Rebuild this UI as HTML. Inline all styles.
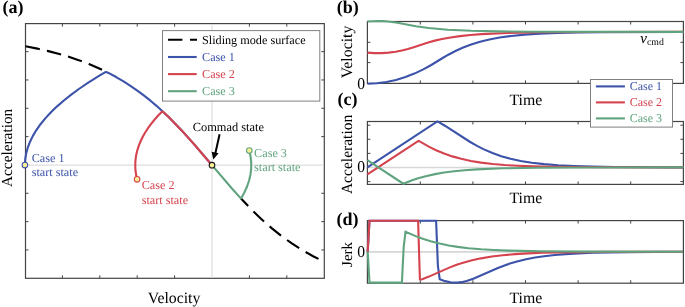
<!DOCTYPE html>
<html><head><meta charset="utf-8"><style>
html,body{margin:0;padding:0;background:#fff;width:685px;height:307px;overflow:hidden}
svg{display:block;text-rendering:geometricPrecision;will-change:transform}
</style></head><body>
<svg width="685" height="307" viewBox="0 0 685 307">
<rect width="685" height="307" fill="#fff"/>
<clipPath id="ca"><rect x="23.5" y="21.6" width="302.8" height="258.70000000000005"/></clipPath>
<rect x="25.5" y="23.6" width="298.80" height="254.70" fill="none" stroke="#444444" stroke-width="1.2"/>
<path d="M62.40 278.3V275.3M62.40 23.6V26.6M99.80 278.3V275.3M99.80 23.6V26.6M137.20 278.3V275.3M137.20 23.6V26.6M174.60 278.3V275.3M174.60 23.6V26.6M249.40 278.3V275.3M249.40 23.6V26.6M286.80 278.3V275.3M286.80 23.6V26.6M25.5 51.63H28.5M324.3 51.63H321.3M25.5 79.96H28.5M324.3 79.96H321.3M25.5 108.29H28.5M324.3 108.29H321.3M25.5 136.62H28.5M324.3 136.62H321.3M25.5 193.28H28.5M324.3 193.28H321.3M25.5 221.61H28.5M324.3 221.61H321.3M25.5 249.94H28.5M324.3 249.94H321.3" stroke="#444444" stroke-width="1" fill="none"/>
<line x1="26.1" y1="165.2" x2="323.7" y2="165.2" stroke="#dedede" stroke-width="1.2"/>
<line x1="212.0" y1="24.200000000000003" x2="212.0" y2="277.7" stroke="#dedede" stroke-width="1.2"/>
<path d="M25.50 46.25 L37.33 48.60 L48.34 51.11 L59.28 53.97 L69.45 57.00 L79.44 60.39 L88.98 64.03 L98.10 67.93 L106.99 72.18" fill="none" stroke="#000" stroke-width="2.1" stroke-dasharray="14.6 7.3"/>
<path d="M240.57 198.08 L251.13 209.15 L261.24 218.95 L271.34 227.89 L281.44 235.98 L291.82 243.43 L302.15 250.03 L313.10 256.20 L324.30 261.74" fill="none" stroke="#000" stroke-width="2.1" stroke-dasharray="14.6 7.5" stroke-dashoffset="3.58"/>
<path d="M24.90 165.10 L25.23 159.25 L26.19 153.41 L27.79 147.57 L30.02 141.73 L32.88 135.89 L36.38 130.06 L40.52 124.22 L45.28 118.38 L50.72 112.50 L56.82 106.61 L63.56 100.72 L70.95 94.82 L79.25 88.75 L88.26 82.65 L99.39 75.70 L105.39 72.16 L105.94 72.03 L106.89 72.24 L108.47 72.94 L116.56 77.29 L123.94 81.64 L131.15 86.28 L137.67 90.81 L144.10 95.60 L150.47 100.68 L156.81 106.08 L168.86 117.26 L181.31 130.03 L194.45 144.63 L211.81 164.97" fill="none" stroke="#3c53a9" stroke-width="2.1" stroke-linejoin="round"/>
<path d="M137.10 179.30 L136.15 175.06 L135.54 170.81 L135.27 166.56 L135.33 162.30 L135.72 158.05 L136.46 153.80 L137.53 149.55 L138.93 145.30 L140.69 141.02 L142.77 136.75 L145.21 132.47 L147.97 128.21 L151.15 123.85 L154.67 119.50 L158.87 114.80 L162.22 111.44 L162.72 111.57 L163.56 112.22 L169.16 117.56 L182.59 131.41 L195.17 145.45 L211.81 164.97" fill="none" stroke="#d4434e" stroke-width="2.1" stroke-linejoin="round"/>
<path d="M249.30 150.60 L250.59 156.57 L251.22 162.54 L251.18 168.52 L250.48 174.49 L249.11 180.50 L247.06 186.51 L244.27 192.67 L241.08 198.23 L240.69 198.11 L239.94 197.39 L231.71 188.23 L212.19 165.43" fill="none" stroke="#60a47f" stroke-width="2.1" stroke-linejoin="round"/>
<line x1="219.6" y1="134.3" x2="215.2" y2="154" stroke="#000" stroke-width="2"/>
<polygon points="213.3,159.5 211.6,151.8 218.6,153.3" fill="#000"/>
<circle cx="24.9" cy="165.1" r="2.8" fill="#fbef96" stroke="#3c53a9" stroke-width="1.1"/>
<circle cx="137.1" cy="179.3" r="2.8" fill="#fbef96" stroke="#d4434e" stroke-width="1.1"/>
<circle cx="249.3" cy="150.6" r="2.8" fill="#fbef96" stroke="#60a47f" stroke-width="1.1"/>
<circle cx="212.0" cy="165.2" r="2.8" fill="#fbef96" stroke="#1a1a1a" stroke-width="1.1"/>
<rect x="162.5" y="30.6" width="157.3" height="70.5" fill="#fff" stroke="#808080" stroke-width="1"/>
<line x1="168" y1="39.8" x2="197" y2="39.8" stroke="#000" stroke-width="2.1" stroke-dasharray="14.4 7.6"/>
<line x1="168" y1="57.0" x2="196.7" y2="57.0" stroke="#3c53a9" stroke-width="2.1"/>
<line x1="168" y1="74.1" x2="196.7" y2="74.1" stroke="#d4434e" stroke-width="2.1"/>
<line x1="168" y1="91.2" x2="196.7" y2="91.2" stroke="#60a47f" stroke-width="2.1"/>
<g style="font-family:'Liberation Serif',serif;font-size:12.2px">
<text x="202" y="44">Sliding mode surface</text>
<text x="202" y="61.2" fill="#3c53a9">Case 1</text>
<text x="202" y="78.3" fill="#d4434e">Case 2</text>
<text x="202" y="95.4" fill="#60a47f">Case 3</text>
</g>
<g style="font-family:'Liberation Serif',serif;font-size:12.2px">
<text x="31.7" y="161.9" fill="#3c53a9">Case 1</text><text x="31.7" y="176.3" fill="#3c53a9">start state</text>
<text x="141.7" y="188.9" fill="#d4434e">Case 2</text><text x="141.7" y="203.5" fill="#d4434e">start state</text>
<text x="254.1" y="156.6" fill="#60a47f">Case 3</text><text x="254.1" y="171.1" fill="#60a47f">start state</text>
<text x="192.7" y="131.3" style="font-size:12.4px">Commad state</text>
</g>
<rect x="367.4" y="21.5" width="316.00" height="61.90" fill="none" stroke="#444444" stroke-width="1.2"/>
<path d="M420.30 83.4V80.4M420.30 21.5V24.5M472.90 83.4V80.4M472.90 21.5V24.5M525.50 83.4V80.4M525.50 21.5V24.5M578.10 83.4V80.4M578.10 21.5V24.5M630.70 83.4V80.4M630.70 21.5V24.5M367.4 42.30H370.4M683.4 42.30H680.4M367.4 62.60H370.4M683.4 62.60H680.4" stroke="#444444" stroke-width="1" fill="none"/>
<path d="M367.40 83.71 L376.92 83.29 L386.44 82.04 L395.96 79.96 L405.49 77.04 L414.38 73.58 L423.27 69.39 L431.27 65.00 L442.23 58.24 L448.37 54.70 L455.46 51.04 L462.56 47.83 L471.12 44.56 L480.01 41.79 L489.41 39.47 L499.53 37.56 L511.34 35.92 L524.57 34.63 L539.66 33.65 L557.32 32.94 L577.54 32.48 L602.74 32.17 L683.40 31.93" fill="none" stroke="#3c53a9" stroke-width="2.1"/>
<path d="M367.40 52.64 L374.47 53.10 L381.54 53.09 L388.60 52.64 L395.67 51.72 L401.81 50.55 L407.95 49.04 L413.72 47.31 L428.11 42.45 L434.88 40.62 L441.98 39.02 L450.69 37.44 L460.09 36.11 L470.36 35.02 L481.73 34.14 L507.69 32.94 L542.40 32.28 L591.31 31.99 L683.40 31.91" fill="none" stroke="#d4434e" stroke-width="2.1"/>
<path d="M367.40 21.57 L372.57 21.18 L377.74 21.02 L382.91 21.12 L388.07 21.45 L397.43 22.69 L415.81 26.30 L428.70 28.05 L447.76 29.69 L471.07 30.79 L497.62 31.39 L533.44 31.72 L683.40 31.90" fill="none" stroke="#60a47f" stroke-width="2.1"/>
<rect x="367.4" y="121.5" width="316.00" height="62.90" fill="none" stroke="#444444" stroke-width="1.2"/>
<path d="M420.30 184.4V181.4M420.30 121.5V124.5M472.90 184.4V181.4M472.90 121.5V124.5M525.50 184.4V181.4M525.50 121.5V124.5M578.10 184.4V181.4M578.10 121.5V124.5M630.70 184.4V181.4M630.70 121.5V124.5M367.4 125.20H370.4M683.4 125.20H680.4M367.4 139.30H370.4M683.4 139.30H680.4M367.4 153.40H370.4M683.4 153.40H680.4M367.4 181.60H370.4M683.4 181.60H680.4" stroke="#444444" stroke-width="1" fill="none"/>
<line x1="368.0" y1="167.5" x2="682.8" y2="167.5" stroke="#d8d8d8" stroke-width="1.6"/>
<path d="M367.40 167.35 L437.36 121.41 L438.80 122.06 L444.87 125.73 L469.81 141.73 L477.02 145.85 L483.93 149.37 L492.48 153.07 L501.30 156.19 L510.62 158.80 L520.64 160.96 L531.77 162.74 L544.16 164.16 L558.17 165.25 L574.38 166.07 L592.86 166.62 L615.41 167.00 L683.40 167.35" fill="none" stroke="#3c53a9" stroke-width="2.1"/>
<path d="M367.40 174.36 L418.43 140.86 L419.24 141.16 L428.79 146.58 L436.07 150.17 L444.06 153.53 L452.30 156.38 L461.22 158.85 L470.80 160.92 L481.22 162.61 L492.74 163.98 L504.62 164.99 L518.04 165.77 L533.43 166.36 L551.55 166.79 L598.35 167.25 L683.40 167.39" fill="none" stroke="#d4434e" stroke-width="2.1"/>
<path d="M367.40 160.19 L403.30 183.71 L412.11 180.34 L419.02 178.06 L426.80 175.94 L435.07 174.13 L444.11 172.57 L453.95 171.28 L464.78 170.23 L476.85 169.38 L503.08 168.32 L538.30 167.73 L588.12 167.48 L683.40 167.40" fill="none" stroke="#60a47f" stroke-width="2.1"/>
<rect x="367.4" y="220.6" width="316.00" height="62.60" fill="none" stroke="#444444" stroke-width="1.2"/>
<path d="M420.30 283.2V280.2M420.30 220.6V223.6M472.90 283.2V280.2M472.90 220.6V223.6M525.50 283.2V280.2M525.50 220.6V223.6M578.10 283.2V280.2M578.10 220.6V223.6M630.70 283.2V280.2M630.70 220.6V223.6" stroke="#444444" stroke-width="1" fill="none"/>
<line x1="368.0" y1="251.9" x2="682.8" y2="251.9" stroke="#d6d6d6" stroke-width="1.7"/>
<path d="M367.70 251.70 L369.50 220.77 L436.10 220.77 L437.90 265.86 L439.70 279.25 L445.10 281.12 L450.50 282.26 L454.10 282.58 L457.70 282.55 L461.30 282.16 L466.70 280.97 L473.90 278.51 L497.30 268.26 L504.50 265.47 L509.90 263.61 L517.10 261.47 L526.10 259.28 L535.10 257.55 L544.10 256.21 L554.90 254.99 L565.70 254.10 L578.30 253.36 L592.70 252.79 L628.70 252.08 L682.70 251.78" fill="none" stroke="#3c53a9" stroke-width="2.1"/>
<path d="M367.70 251.70 L369.50 220.77 L418.10 220.77 L419.90 279.27 L421.70 279.49 L428.90 276.59 L448.70 267.85 L455.90 265.11 L463.10 262.74 L472.10 260.29 L481.10 258.34 L491.90 256.56 L502.70 255.25 L515.30 254.16 L527.90 253.40 L542.30 252.81 L560.30 252.35 L605.30 251.87 L682.70 251.72" fill="none" stroke="#d4434e" stroke-width="2.1"/>
<path d="M367.70 251.70 L369.50 282.63 L401.90 282.63 L403.70 246.84 L405.50 231.86 L416.30 236.37 L423.50 239.01 L430.70 241.27 L439.70 243.60 L448.70 245.44 L457.70 246.87 L468.50 248.18 L481.10 249.26 L493.70 250.02 L508.10 250.60 L542.30 251.30 L590.90 251.60 L682.70 251.69" fill="none" stroke="#60a47f" stroke-width="2.1"/>
<rect x="590.5" y="79.5" width="82" height="47.6" fill="#fff" stroke="#808080" stroke-width="1"/>
<line x1="595.9" y1="86.4" x2="624.9" y2="86.4" stroke="#3c53a9" stroke-width="2.1"/>
<text x="629.7" y="90.2" fill="#3c53a9" style="font-family:'Liberation Serif',serif;font-size:12px">Case 1</text>
<line x1="595.9" y1="102.4" x2="624.9" y2="102.4" stroke="#d4434e" stroke-width="2.1"/>
<text x="629.7" y="106.2" fill="#d4434e" style="font-family:'Liberation Serif',serif;font-size:12px">Case 2</text>
<line x1="595.9" y1="118.4" x2="624.9" y2="118.4" stroke="#60a47f" stroke-width="2.1"/>
<text x="629.7" y="122.2" fill="#60a47f" style="font-family:'Liberation Serif',serif;font-size:12px">Case 3</text>
<text x="640.2" y="42.8" style="font-family:'Liberation Serif',serif;font-size:15px;font-style:italic">v</text>
<text x="647.0" y="45.2" style="font-family:'Liberation Serif',serif;font-size:9.8px">cmd</text>
<g style="font-family:'Liberation Serif',serif;font-size:15.8px" text-anchor="middle">
<text x="174.1" y="302.9">Velocity</text>
<text x="525.9" y="104.5">Time</text>
<text x="525.9" y="202.9">Time</text>
<text x="525.9" y="302.8">Time</text>
<text transform="translate(12.1 147.9) rotate(-90)" style="font-size:15.3px">Acceleration</text>
<text transform="translate(352.0 52.0) rotate(-90)">Velocity</text>
<text transform="translate(351.8 154.4) rotate(-90)" style="font-size:15.55px">Acceleration</text>
<text transform="translate(351.8 254.4) rotate(-90)" style="font-size:15px">Jerk</text>
</g>
<g style="font-family:'Liberation Serif',serif;font-size:16.5px" text-anchor="end">
<text transform="translate(365.2 89.05) scale(0.95 1)">0</text>
<text transform="translate(365.2 172.15) scale(0.95 1)">0</text>
<text transform="translate(365.2 257.15) scale(0.95 1)">0</text>
</g>
<g style="font-family:'Liberation Serif',serif;font-size:18px;font-weight:bold">
<text x="2.5" y="13.1">(a)</text>
<text x="336.8" y="13.2">(b)</text>
<text x="337.6" y="105">(c)</text>
<text x="336.5" y="225">(d)</text>
</g>
</svg>
</body></html>
